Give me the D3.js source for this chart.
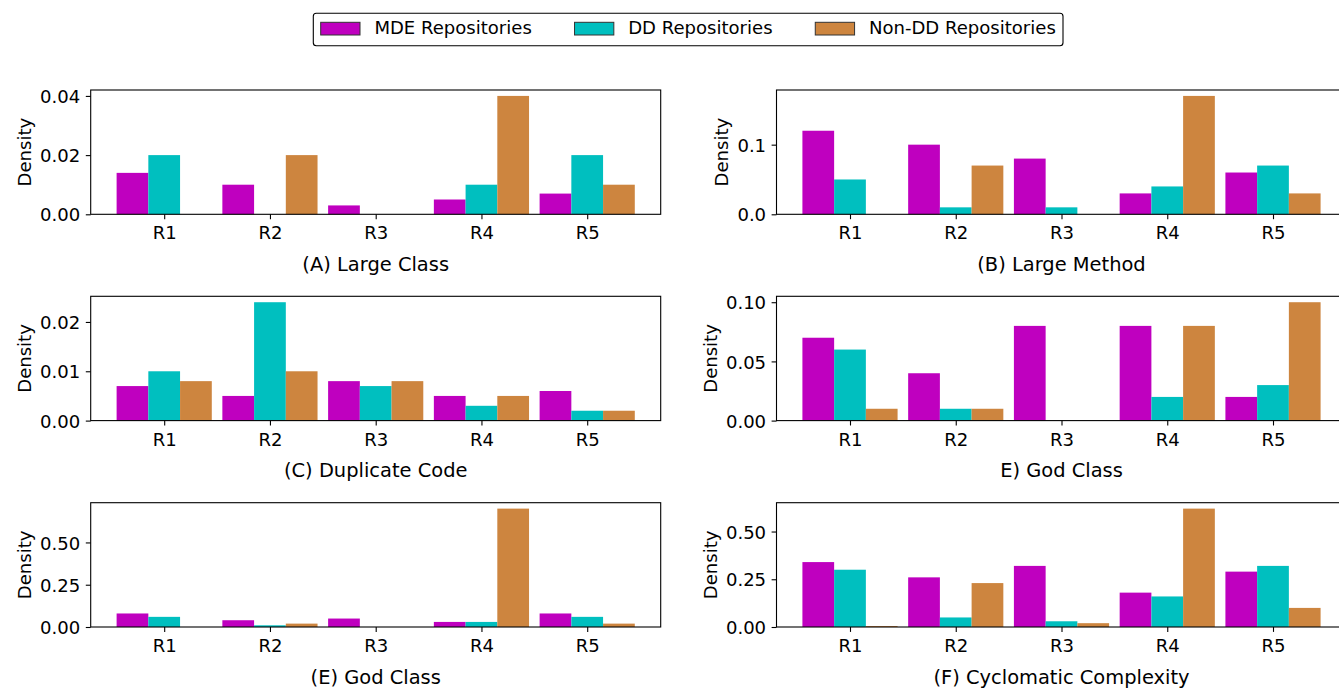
<!DOCTYPE html>
<html>
<head>
<meta charset="utf-8">
<script src="https://cdn.jsdelivr.net/npm/d3@7/dist/d3.min.js"></script>
<style>
  html, body { margin: 0; padding: 0; background: #fff; }
  svg { display: block; }
  text { font-family: "DejaVu Sans", sans-serif; fill: #000; }
</style>
</head>
<body>
<svg id="chart" width="1339" height="690"></svg>
<script>
// ---------- DATA ----------
const categories = ["R1", "R2", "R3", "R4", "R5"];
const seriesNames = ["MDE Repositories", "DD Repositories", "Non-DD Repositories"];
const seriesColors = ["#bf00bf", "#00bfbf", "#cd853f"];

const panelTitles = ["(A) Large Class", "(B) Large Method", "(C) Duplicate Code",
                     "E) God Class", "(E) God Class", "(F) Cyclomatic Complexity"];

const largeClassMDE   = [0.014, 0.010, 0.003, 0.005, 0.007];
const largeClassDD    = [0.020, 0.000, 0.000, 0.010, 0.020];
const largeClassNonDD = [0.000, 0.020, 0.000, 0.040, 0.010];
const largeClassTicks = [0, 0.02, 0.04];
const largeClassTickLabels = ["0.00", "0.02", "0.04"];

const largeMethodMDE   = [0.12, 0.10, 0.08, 0.03, 0.06];
const largeMethodDD    = [0.05, 0.01, 0.01, 0.04, 0.07];
const largeMethodNonDD = [0.00, 0.07, 0.00, 0.17, 0.03];
const largeMethodTicks = [0, 0.1];
const largeMethodTickLabels = ["0.0", "0.1"];

const duplicateMDE   = [0.007, 0.005, 0.008, 0.005, 0.006];
const duplicateDD    = [0.010, 0.024, 0.007, 0.003, 0.002];
const duplicateNonDD = [0.008, 0.010, 0.008, 0.005, 0.002];
const duplicateTicks = [0, 0.01, 0.02];
const duplicateTickLabels = ["0.00", "0.01", "0.02"];

const godClass1MDE   = [0.07, 0.04, 0.08, 0.08, 0.02];
const godClass1DD    = [0.06, 0.01, 0.00, 0.02, 0.03];
const godClass1NonDD = [0.01, 0.01, 0.00, 0.08, 0.10];
const godClass1Ticks = [0, 0.05, 0.10];
const godClass1TickLabels = ["0.00", "0.05", "0.10"];

const godClass2MDE   = [0.08, 0.04, 0.05, 0.03, 0.08];
const godClass2DD    = [0.06, 0.01, 0.00, 0.03, 0.06];
const godClass2NonDD = [0.00, 0.02, 0.00, 0.70, 0.02];
const godClass2Ticks = [0, 0.25, 0.50];
const godClass2TickLabels = ["0.00", "0.25", "0.50"];

const cyclomaticMDE   = [0.34, 0.26, 0.32, 0.18, 0.29];
const cyclomaticDD    = [0.30, 0.05, 0.03, 0.16, 0.32];
const cyclomaticNonDD = [0.005, 0.23, 0.02, 0.62, 0.10];
const cyclomaticTicks = [0, 0.25, 0.50];
const cyclomaticTickLabels = ["0.00", "0.25", "0.50"];

const yLabel = "Density";

// ---------- LAYOUT ----------
const panels = [
  { title: panelTitles[0], series: [largeClassMDE, largeClassDD, largeClassNonDD], ticks: largeClassTicks, labels: largeClassTickLabels },
  { title: panelTitles[1], series: [largeMethodMDE, largeMethodDD, largeMethodNonDD], ticks: largeMethodTicks, labels: largeMethodTickLabels },
  { title: panelTitles[2], series: [duplicateMDE, duplicateDD, duplicateNonDD], ticks: duplicateTicks, labels: duplicateTickLabels },
  { title: panelTitles[3], series: [godClass1MDE, godClass1DD, godClass1NonDD], ticks: godClass1Ticks, labels: godClass1TickLabels },
  { title: panelTitles[4], series: [godClass2MDE, godClass2DD, godClass2NonDD], ticks: godClass2Ticks, labels: godClass2TickLabels },
  { title: panelTitles[5], series: [cyclomaticMDE, cyclomaticDD, cyclomaticNonDD], ticks: cyclomaticTicks, labels: cyclomaticTickLabels }
];

const colLeft = [90.7, 776.5];
const rowTop = [90, 296.3, 502.7];
const axW = 570, axH = 124.3;
const barW = 0.3;
const tickFont = 18.06, labelFont = 19.44, legendFont = 18.06;

const svg = d3.select("#chart");
svg.append("rect").attr("width", 1339).attr("height", 690).attr("fill", "#fff");

const xDomainLo = -1.5 * barW, xDomainHi = categories.length - 1 + 1.5 * barW;
const xPad = (xDomainHi - xDomainLo) * 0.05;

panels.forEach((p, idx) => {
  const col = idx % 2, row = Math.floor(idx / 2);
  const g = svg.append("g").attr("transform", `translate(${colLeft[col]},${rowTop[row]})`);

  const x = d3.scaleLinear().domain([xDomainLo - xPad, xDomainHi + xPad]).range([0, axW]);
  const ymax = d3.max(p.series.flat()) * 1.05;
  const y = d3.scaleLinear().domain([0, ymax]).range([axH, 0]);

  // bars
  p.series.forEach((vals, si) => {
    g.append("g").selectAll("rect").data(vals).join("rect")
      .attr("x", (d, i) => x(i + (si - 1) * barW - barW / 2))
      .attr("width", x(barW) - x(0))
      .attr("y", d => y(d))
      .attr("height", d => y(0) - y(d))
      .attr("fill", seriesColors[si]);
  });

  // axes
  const xAxis = d3.axisBottom(x).tickValues(d3.range(categories.length))
    .tickFormat(i => categories[i]).tickSize(4.9).tickPadding(5.5);
  const gx = g.append("g").attr("transform", `translate(0,${axH})`).call(xAxis);
  const yAxis = d3.axisLeft(y).tickValues(p.ticks)
    .tickFormat((d, i) => p.labels[i]).tickSize(4.9).tickPadding(5.5);
  const gy = g.append("g").call(yAxis);
  [gx, gy].forEach(a => {
    a.select(".domain").remove();
    a.selectAll(".tick line").attr("stroke", "#000").attr("stroke-width", 1.1);
    a.selectAll(".tick text").attr("font-size", tickFont)
      .attr("font-family", "DejaVu Sans").attr("fill", "#000");
  });
  gx.selectAll(".tick text").attr("dy", null).attr("y", 25).attr("dominant-baseline", "auto");
  gy.selectAll(".tick text").attr("dy", "0.365em");

  // frame
  g.append("rect").attr("x", 0).attr("y", 0).attr("width", axW).attr("height", axH)
    .attr("fill", "none").attr("stroke", "#000").attr("stroke-width", 1.1);

  // y label
  let maxW = 0;
  gy.selectAll(".tick text").each(function () { maxW = Math.max(maxW, this.getComputedTextLength()); });
  const ylx = -(4.9 + 5.5 + maxW + 9.3);
  g.append("text").attr("transform", `translate(${ylx},${axH / 2}) rotate(-90)`)
    .attr("text-anchor", "middle").attr("font-size", tickFont).text(yLabel);

  // subplot title (x label)
  g.append("text").attr("x", axW / 2).attr("y", axH + 56.7)
    .attr("text-anchor", "middle").attr("font-size", labelFont).text(p.title);
});

// ---------- LEGEND ----------
const legX = 313.3, legY = 13.3, legW = 749.7, legH = 32.4;
const leg = svg.append("g");
leg.append("rect").attr("x", legX).attr("y", legY).attr("width", legW).attr("height", legH)
  .attr("rx", 3).attr("fill", "#fff").attr("stroke", "#000").attr("stroke-width", 1.1);

const patchW = 39.3, patchH = 12.7, textPad = 14.4, borderL = 7.4, borderR = 7.2;
const texts = seriesNames.map(n => leg.append("text").attr("font-size", legendFont).text(n));
const widths = texts.map(t => t.node().getComputedTextLength());
const colSpace = (legW - borderL - borderR - 3 * (patchW + textPad) - d3.sum(widths)) / 2;
let cx = legX + borderL;
seriesNames.forEach((n, i) => {
  leg.append("rect").attr("x", cx).attr("y", 22.3).attr("width", patchW).attr("height", patchH)
    .attr("fill", seriesColors[i]).attr("stroke", "#333").attr("stroke-width", 1);
  texts[i].attr("x", cx + patchW + textPad).attr("y", 34.3);
  cx += patchW + textPad + widths[i] + colSpace;
});
</script>
</body>
</html>
